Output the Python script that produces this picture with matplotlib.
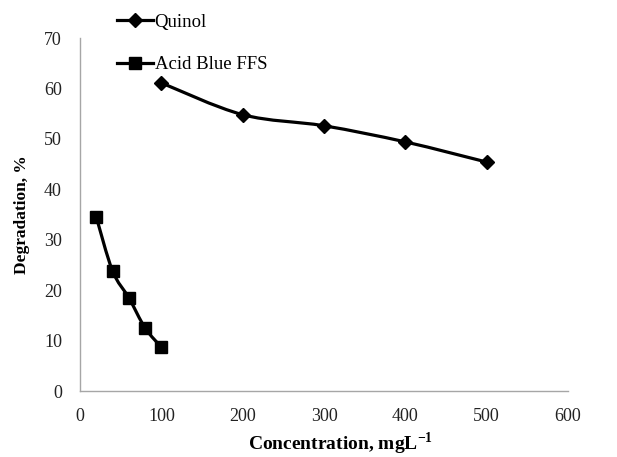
import numpy as np
import matplotlib.pyplot as plt
from matplotlib.path import Path
from matplotlib.patches import PathPatch
from matplotlib.lines import Line2D

plt.rcParams['font.family'] = ['Liberation Serif', 'DejaVu Serif']
plt.rcParams['mathtext.fontset'] = 'custom'
plt.rcParams['mathtext.rm'] = 'Liberation Serif'
plt.rcParams['mathtext.bf'] = 'Liberation Serif:bold'

# data
quinol_x = [100, 200, 300, 400, 500]
quinol_y = [61.1, 54.8, 52.6, 49.4, 45.4]
acid_x = [20, 40, 60, 80, 100]
acid_y = [34.5, 23.8, 18.5, 12.5, 8.7]


def smooth_path(x, y, t=1/6):
    # Excel-style smoothed line: cubic bezier segments (Catmull-Rom)
    pts = np.column_stack([x, y]).astype(float)
    verts = [pts[0]]
    codes = [Path.MOVETO]
    n = len(pts)
    for i in range(n - 1):
        p0 = pts[i - 1] if i > 0 else pts[i]
        p1 = pts[i]
        p2 = pts[i + 1]
        p3 = pts[i + 2] if i + 2 < n else pts[i + 1]
        c1 = p1 + (p2 - p0) * t
        c2 = p2 - (p3 - p1) * t
        verts += [c1, c2, p2]
        codes += [Path.CURVE4] * 3
    return Path(verts, codes)


fig = plt.figure(figsize=(6.17, 4.57), dpi=100)
ax = fig.add_axes([0.1297, 0.1444, 0.7909, 0.7724])

for xs, ys in [(quinol_x, quinol_y), (acid_x, acid_y)]:
    ax.add_patch(PathPatch(smooth_path(xs, ys), fill=False, lw=2.3,
                           edgecolor='black', capstyle='round'))

ax.plot(quinol_x, quinol_y, ls='none', marker='D', ms=7, color='black')
ax.plot(acid_x, acid_y, ls='none', marker='s', ms=8.5, color='black')

ax.set_xlim(0, 600)
ax.set_ylim(0, 70)
ax.set_xticks(range(0, 601, 100))
ax.set_yticks(range(0, 71, 10))
ax.tick_params(length=0, labelsize=13, labelcolor='#222222')
ax.tick_params(axis='y', pad=13)
ax.tick_params(axis='x', pad=12)
for s in ['top', 'right']:
    ax.spines[s].set_visible(False)
for s in ['left', 'bottom']:
    ax.spines[s].set_color('#a6a6a6')
    ax.spines[s].set_linewidth(1)

ax.set_xlabel('Concentration, mgL$^{\\mathbf{-1}}$', fontsize=14,
              fontweight='bold')
ax.xaxis.label.set_va('baseline')
ax.xaxis.set_label_coords(0.533, -0.168)
ax.set_ylabel('Degradation, %', fontsize=12.5, fontweight='bold')
ax.yaxis.set_label_coords(-0.103, 0.5)

handles = [
    Line2D([], [], color='black', lw=2.3, marker='D', ms=7),
    Line2D([], [], color='black', lw=2.3, marker='s', ms=8.5),
]
fig.legend(handles, ['Quinol', 'Acid Blue FFS'], loc='upper left',
           bbox_to_anchor=(0.19, 0.97), frameon=False, fontsize=13.5,
           handlelength=1.9, handletextpad=0.1, labelspacing=1.35,
           borderpad=0, borderaxespad=0)

fig.savefig('out.png', dpi=100)
